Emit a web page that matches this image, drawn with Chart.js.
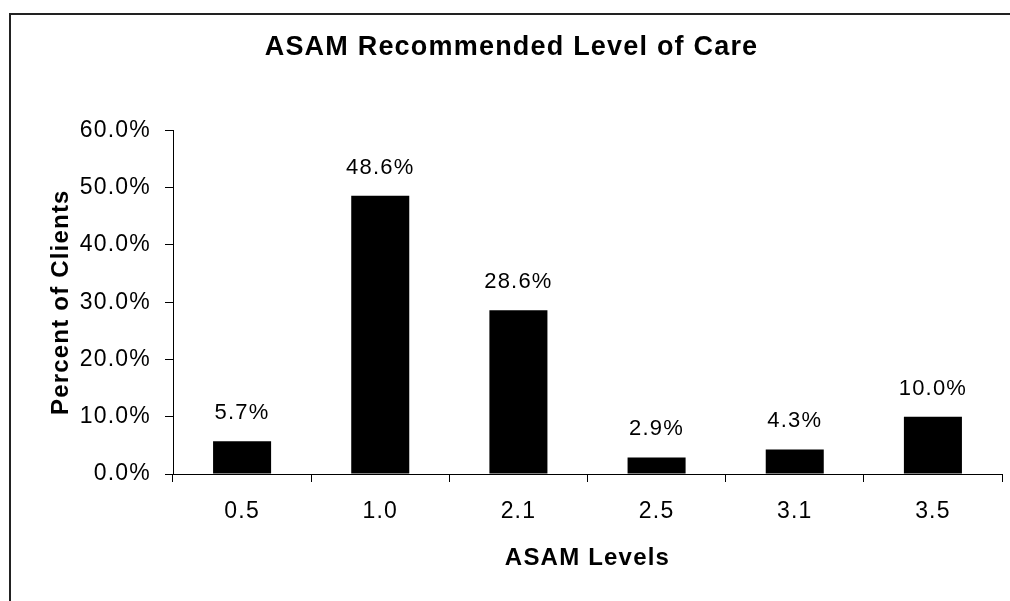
<!DOCTYPE html>
<html>
<head>
<meta charset="utf-8">
<script src="https://cdn.jsdelivr.net/npm/chart.js@4"></script>
<style>
  html, body { margin: 0; padding: 0; background: #fff; overflow: hidden; }
  #wrap { position: relative; width: 1010px; height: 601px; }
</style>
</head>
<body>
<div id="wrap"><canvas id="chart"></canvas></div>
<script>
'use strict';

// data
const levels = ['0.5', '1.0', '2.1', '2.5', '3.1', '3.5'];
const percents = [5.7, 48.6, 28.6, 2.9, 4.3, 10.0];
const yTicks = [0, 10, 20, 30, 40, 50, 60];

const FONT = '"Liberation Sans", Arial, sans-serif';
const SPACING = '1.2px';

// excel-ish text is a bit spread out
const spacingPlugin = {
  id: 'spacing',
  beforeLayout(chart) { chart.ctx.letterSpacing = SPACING; },
  beforeDraw(chart) {
    const ctx = chart.ctx;
    ctx.letterSpacing = SPACING;
    ctx.save();
    ctx.fillStyle = '#fff';
    ctx.fillRect(0, 0, chart.width, chart.height);
    // outer frame, only left and top are visible in the picture
    ctx.strokeStyle = '#222';
    ctx.lineWidth = 2;
    ctx.strokeRect(10, 14, 2000, 2000);
    ctx.restore();
  }
};

// value labels above the bars
const valueLabels = {
  id: 'valueLabels',
  afterDatasetsDraw(chart) {
    const ctx = chart.ctx;
    const meta = chart.getDatasetMeta(0);
    ctx.save();
    ctx.letterSpacing = SPACING;
    ctx.font = '22px ' + FONT;
    ctx.fillStyle = '#000';
    ctx.textAlign = 'center';
    ctx.textBaseline = 'middle';
    meta.data.forEach(function(bar, i) {
      ctx.fillText(percents[i].toFixed(1) + '%', bar.x, bar.y - 28);
    });
    ctx.restore();
  }
};

new Chart(document.getElementById('chart'), {
  type: 'bar',
  data: {
    labels: levels,
    datasets: [{
      data: percents,
      backgroundColor: '#000',
      borderWidth: 0,
      barPercentage: 0.42,
      categoryPercentage: 1.0
    }]
  },
  options: {
    responsive: true,
    maintainAspectRatio: false,
    animation: false,
    layout: { padding: { left: 21, right: 8, top: 0, bottom: 0 } },
    plugins: {
      legend: { display: false },
      tooltip: { enabled: false },
      title: {
        display: true,
        text: 'ASAM Recommended Level of Care',
        color: '#000',
        font: { family: FONT, size: 27, weight: 'bold', lineHeight: 1.2 },
        padding: { top: 31, bottom: 67 }
      }
    },
    scales: {
      x: {
        grid: { display: true, drawOnChartArea: false, drawTicks: true, tickLength: 8, color: '#000', lineWidth: 1 },
        border: { display: true, color: '#000', width: 1 },
        ticks: { color: '#000', padding: 16, font: { family: FONT, size: 23 }, maxRotation: 0 },
        title: {
          display: true,
          text: 'ASAM Levels',
          color: '#000',
          font: { family: FONT, size: 24, weight: 'bold', lineHeight: 1.2 },
          padding: { top: 0, bottom: 28 }
        },
        afterFit: function(s) { s.height = 127; }
      },
      y: {
        min: 0,
        max: 60,
        grid: { display: true, drawOnChartArea: false, drawTicks: true, tickLength: 8, color: '#000', lineWidth: 1 },
        border: { display: true, color: '#000', width: 1 },
        afterBuildTicks: function(s) { s.ticks = yTicks.map(function(v) { return { value: v }; }); },
        ticks: {
          color: '#000',
          padding: 14,
          font: { family: FONT, size: 23 },
          callback: function(v) { return Number(v).toFixed(1) + '%'; }
        },
        title: {
          display: true,
          text: 'Percent of Clients',
          color: '#000',
          font: { family: FONT, size: 24, weight: 'bold', lineHeight: 1.2 },
          padding: { top: 26, bottom: 0 }
        },
        afterFit: function(s) { s.width = 152; }
      }
    }
  },
  plugins: [spacingPlugin, valueLabels]
});
</script>
</body>
</html>
